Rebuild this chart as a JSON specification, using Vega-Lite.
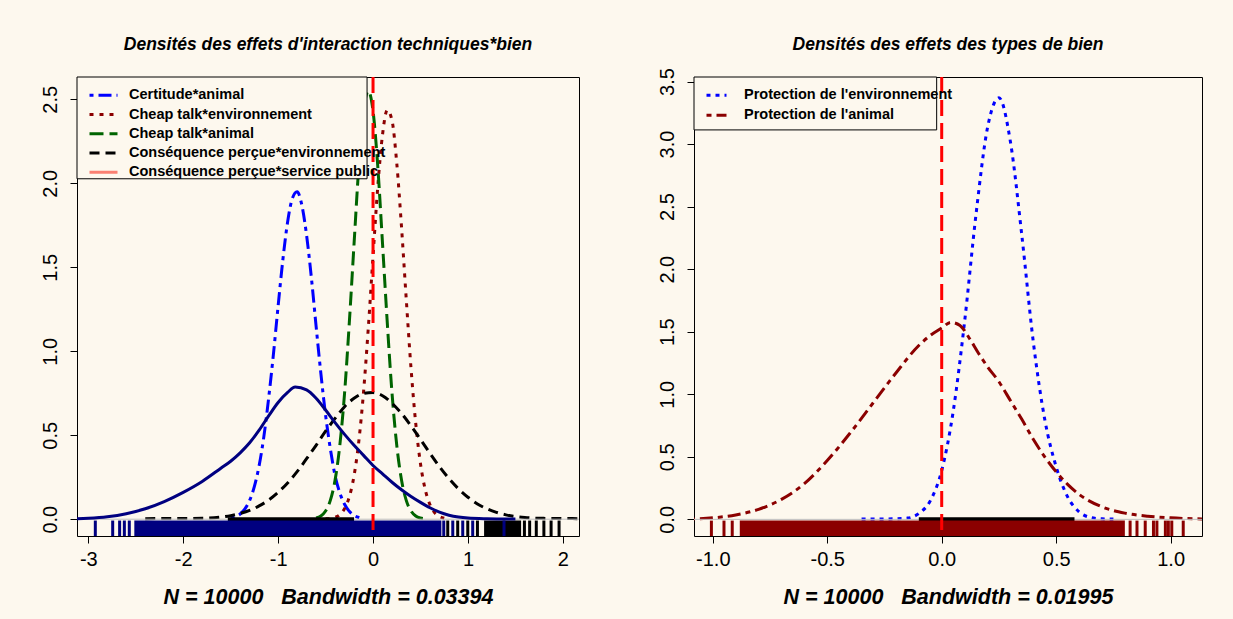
{
  "$schema": "https://vega.github.io/schema/vega-lite/v6.json",
  "background": "#fdf8ee",
  "padding": {"left": 39, "top": 35, "right": 33, "bottom": 16},
  "spacing": 76,
  "config": {
    "font": "Liberation Sans",
    "locale": {"number": {"decimal": ".", "thousands": ",", "grouping": [3], "currency": ["$", ""], "minus": "-"}},
    "view": {"stroke": "#000000", "strokeWidth": 1},
    "axis": {"grid": false, "domain": false, "tickColor": "#000000", "tickSize": 7, "tickWidth": 1, "labelColor": "#000000", "labelFontSize": 20, "labelFont": "Liberation Sans", "titleFont": "Liberation Sans", "labelFlush": false, "labelOverlap": false},
    "axisY": {"labelAngle": -90, "labelAlign": "center", "labelBaseline": "alphabetic", "labelPadding": 14},
    "axisX": {"labelPadding": 6, "titleFontSize": 21.5, "titleFontWeight": "bold", "titleFontStyle": "italic", "titleColor": "#000000", "titleBaseline": "alphabetic", "titleY": 67},
    "title": {"fontSize": 17.5, "fontWeight": "bold", "fontStyle": "italic", "color": "#000000", "anchor": "middle", "frame": "group", "baseline": "alphabetic"},
    "legend": {"orient": "none", "legendX": 0, "legendY": 0, "title": null, "symbolType": "stroke", "symbolStrokeWidth": 3, "labelFontSize": 14.5, "labelFontWeight": "bold", "labelColor": "#000000", "labelBaseline": "middle", "labelLimit": 600, "clipHeight": 14.5, "padding": 11}
  },
  "resolve": {"scale": {"color": "independent", "strokeDash": "independent"}, "legend": {"color": "independent", "strokeDash": "independent"}},
  "datasets": {
    "L_curves": [
      {"s":"ca","x":-1.5,"y":0.007},{"s":"ca","x":-1.45,"y":0.015},{"s":"ca","x":-1.4,"y":0.031},{"s":"ca","x":-1.35,"y":0.061},{"s":"ca","x":-1.3,"y":0.112},{"s":"ca","x":-1.25,"y":0.195},{"s":"ca","x":-1.2,"y":0.319},{"s":"ca","x":-1.15,"y":0.493},{"s":"ca","x":-1.1,"y":0.72},{"s":"ca","x":-1.05,"y":0.98},{"s":"ca","x":-1.0,"y":1.27},{"s":"ca","x":-0.95,"y":1.545},{"s":"ca","x":-0.9,"y":1.77},{"s":"ca","x":-0.85,"y":1.91},{"s":"ca","x":-0.8,"y":1.95},{"s":"ca","x":-0.75,"y":1.87},{"s":"ca","x":-0.7,"y":1.69},{"s":"ca","x":-0.65,"y":1.44},{"s":"ca","x":-0.6,"y":1.15},{"s":"ca","x":-0.55,"y":0.87},{"s":"ca","x":-0.5,"y":0.62},{"s":"ca","x":-0.45,"y":0.42},{"s":"ca","x":-0.4,"y":0.26},{"s":"ca","x":-0.35,"y":0.157},{"s":"ca","x":-0.3,"y":0.089},{"s":"ca","x":-0.25,"y":0.047},{"s":"ca","x":-0.2,"y":0.023},{"s":"ca","x":-0.15,"y":0.01},{"s":"ca","x":-0.1,"y":0.003},
      {"s":"cte","x":-0.5,"y":0.002},{"s":"cte","x":-0.45,"y":0.004},{"s":"cte","x":-0.4,"y":0.011},{"s":"cte","x":-0.35,"y":0.027},{"s":"cte","x":-0.3,"y":0.063},{"s":"cte","x":-0.25,"y":0.133},{"s":"cte","x":-0.2,"y":0.259},{"s":"cte","x":-0.15,"y":0.463},{"s":"cte","x":-0.1,"y":0.758},{"s":"cte","x":-0.05,"y":1.138},{"s":"cte","x":0.0,"y":1.567},{"s":"cte","x":0.05,"y":1.98},{"s":"cte","x":0.1,"y":2.29},{"s":"cte","x":0.15,"y":2.436},{"s":"cte","x":0.2,"y":2.374},{"s":"cte","x":0.25,"y":2.12},{"s":"cte","x":0.3,"y":1.74},{"s":"cte","x":0.35,"y":1.31},{"s":"cte","x":0.4,"y":0.9},{"s":"cte","x":0.45,"y":0.57},{"s":"cte","x":0.5,"y":0.33},{"s":"cte","x":0.55,"y":0.176},{"s":"cte","x":0.6,"y":0.086},{"s":"cte","x":0.65,"y":0.038},{"s":"cte","x":0.7,"y":0.016},{"s":"cte","x":0.75,"y":0.006},
      {"s":"cta","x":-0.6,"y":0.007},{"s":"cta","x":-0.55,"y":0.019},{"s":"cta","x":-0.5,"y":0.049},{"s":"cta","x":-0.45,"y":0.112},{"s":"cta","x":-0.4,"y":0.233},{"s":"cta","x":-0.35,"y":0.44},{"s":"cta","x":-0.3,"y":0.75},{"s":"cta","x":-0.25,"y":1.17},{"s":"cta","x":-0.2,"y":1.64},{"s":"cta","x":-0.15,"y":2.1},{"s":"cta","x":-0.1,"y":2.43},{"s":"cta","x":-0.05,"y":2.55},{"s":"cta","x":0.0,"y":2.43},{"s":"cta","x":0.05,"y":2.1},{"s":"cta","x":0.1,"y":1.64},{"s":"cta","x":0.15,"y":1.17},{"s":"cta","x":0.2,"y":0.75},{"s":"cta","x":0.25,"y":0.44},{"s":"cta","x":0.3,"y":0.233},{"s":"cta","x":0.35,"y":0.112},{"s":"cta","x":0.4,"y":0.049},{"s":"cta","x":0.45,"y":0.019},{"s":"cta","x":0.5,"y":0.007},{"s":"cta","x":0.55,"y":0.003},
      {"s":"cpe","x":-2.4,"y":0.003},{"s":"cpe","x":-2.2,"y":0.004},{"s":"cpe","x":-2.0,"y":0.004},{"s":"cpe","x":-1.8,"y":0.005},{"s":"cpe","x":-1.6,"y":0.013},{"s":"cpe","x":-1.5,"y":0.021},{"s":"cpe","x":-1.4,"y":0.034},{"s":"cpe","x":-1.3,"y":0.052},{"s":"cpe","x":-1.2,"y":0.079},{"s":"cpe","x":-1.1,"y":0.114},{"s":"cpe","x":-1.0,"y":0.16},{"s":"cpe","x":-0.9,"y":0.216},{"s":"cpe","x":-0.8,"y":0.283},{"s":"cpe","x":-0.7,"y":0.36},{"s":"cpe","x":-0.6,"y":0.44},{"s":"cpe","x":-0.5,"y":0.524},{"s":"cpe","x":-0.4,"y":0.6},{"s":"cpe","x":-0.3,"y":0.67},{"s":"cpe","x":-0.2,"y":0.72},{"s":"cpe","x":-0.1,"y":0.749},{"s":"cpe","x":0.0,"y":0.754},{"s":"cpe","x":0.1,"y":0.735},{"s":"cpe","x":0.2,"y":0.69},{"s":"cpe","x":0.3,"y":0.63},{"s":"cpe","x":0.4,"y":0.556},{"s":"cpe","x":0.5,"y":0.475},{"s":"cpe","x":0.6,"y":0.392},{"s":"cpe","x":0.7,"y":0.313},{"s":"cpe","x":0.8,"y":0.242},{"s":"cpe","x":0.9,"y":0.181},{"s":"cpe","x":1.0,"y":0.131},{"s":"cpe","x":1.1,"y":0.091},{"s":"cpe","x":1.2,"y":0.062},{"s":"cpe","x":1.3,"y":0.041},{"s":"cpe","x":1.4,"y":0.026},{"s":"cpe","x":1.5,"y":0.016},{"s":"cpe","x":1.6,"y":0.01},{"s":"cpe","x":1.8,"y":0.005},{"s":"cpe","x":2.0,"y":0.004},{"s":"cpe","x":2.2,"y":0.003}
    ],
    "L_sp": [
      {"x":-3.2,"y":0.002},{"x":-3.0,"y":0.006},{"x":-2.8,"y":0.015},{"x":-2.6,"y":0.033},{"x":-2.4,"y":0.062},{"x":-2.2,"y":0.105},{"x":-2.0,"y":0.16},{"x":-1.8,"y":0.225},{"x":-1.6,"y":0.305},{"x":-1.5,"y":0.345},{"x":-1.4,"y":0.395},{"x":-1.3,"y":0.455},{"x":-1.2,"y":0.53},{"x":-1.1,"y":0.615},{"x":-1.0,"y":0.695},{"x":-0.9,"y":0.755},{"x":-0.82,"y":0.787},{"x":-0.7,"y":0.77},{"x":-0.6,"y":0.72},{"x":-0.5,"y":0.65},{"x":-0.4,"y":0.575},{"x":-0.3,"y":0.505},{"x":-0.2,"y":0.44},{"x":-0.1,"y":0.38},{"x":0.0,"y":0.32},{"x":0.1,"y":0.27},{"x":0.2,"y":0.22},{"x":0.3,"y":0.175},{"x":0.4,"y":0.135},{"x":0.5,"y":0.1},{"x":0.6,"y":0.068},{"x":0.7,"y":0.042},{"x":0.8,"y":0.024},{"x":0.9,"y":0.013},{"x":1.0,"y":0.007},{"x":1.2,"y":0.003},{"x":1.5,"y":0.001}
    ],
    "L_band": [{"s":"cpe","x":1.17,"x2":1.56},{"s":"cps","x":-2.515,"x2":0.72}],
    "L_rug": [
      {"s":"cps","x":-2.926},{"s":"cps","x":-2.743},{"s":"cps","x":-2.67},{"s":"cps","x":-2.62},{"s":"cps","x":-2.568},{"s":"cps","x":0.745},{"s":"cps","x":0.84},{"s":"cps","x":0.945},{"s":"cps","x":1.05},{"s":"cps","x":1.38},
      {"s":"cpe","x":0.787},{"s":"cpe","x":0.892},{"s":"cpe","x":0.998},{"s":"cpe","x":1.1},{"s":"cpe","x":1.595},{"s":"cpe","x":1.65},{"s":"cpe","x":1.72},{"s":"cpe","x":1.8},{"s":"cpe","x":1.876},{"s":"cpe","x":1.96}
    ],
    "L_bar": [{"x":-1.53,"x2":-0.2}],
    "R_curves": [
      {"s":"pe","x":-0.35,"y":0.002},{"s":"pe","x":-0.25,"y":0.003},{"s":"pe","x":-0.15,"y":0.01},{"s":"pe","x":-0.1,"y":0.047},{"s":"pe","x":-0.05,"y":0.148},{"s":"pe","x":0.0,"y":0.39},{"s":"pe","x":0.05,"y":0.86},{"s":"pe","x":0.1,"y":1.58},{"s":"pe","x":0.15,"y":2.44},{"s":"pe","x":0.2,"y":3.13},{"s":"pe","x":0.25,"y":3.37},{"s":"pe","x":0.3,"y":3.02},{"s":"pe","x":0.35,"y":2.27},{"s":"pe","x":0.4,"y":1.42},{"s":"pe","x":0.45,"y":0.8},{"s":"pe","x":0.5,"y":0.42},{"s":"pe","x":0.55,"y":0.18},{"s":"pe","x":0.6,"y":0.06},{"s":"pe","x":0.65,"y":0.015},{"s":"pe","x":0.7,"y":0.004},{"s":"pe","x":0.75,"y":0.002},
      {"s":"pa","x":-1.1,"y":0.002},{"s":"pa","x":-1.0,"y":0.012},{"s":"pa","x":-0.9,"y":0.035},{"s":"pa","x":-0.8,"y":0.08},{"s":"pa","x":-0.7,"y":0.16},{"s":"pa","x":-0.6,"y":0.285},{"s":"pa","x":-0.5,"y":0.47},{"s":"pa","x":-0.4,"y":0.69},{"s":"pa","x":-0.3,"y":0.93},{"s":"pa","x":-0.2,"y":1.17},{"s":"pa","x":-0.1,"y":1.39},{"s":"pa","x":-0.05,"y":1.47},{"s":"pa","x":0.0,"y":1.53},{"s":"pa","x":0.04,"y":1.575},{"s":"pa","x":0.08,"y":1.55},{"s":"pa","x":0.12,"y":1.45},{"s":"pa","x":0.16,"y":1.33},{"s":"pa","x":0.2,"y":1.22},{"s":"pa","x":0.25,"y":1.1},{"s":"pa","x":0.3,"y":0.95},{"s":"pa","x":0.35,"y":0.8},{"s":"pa","x":0.4,"y":0.64},{"s":"pa","x":0.45,"y":0.5},{"s":"pa","x":0.5,"y":0.38},{"s":"pa","x":0.55,"y":0.28},{"s":"pa","x":0.6,"y":0.2},{"s":"pa","x":0.7,"y":0.1},{"s":"pa","x":0.8,"y":0.05},{"s":"pa","x":0.9,"y":0.025},{"s":"pa","x":1.0,"y":0.012},{"s":"pa","x":1.1,"y":0.005},{"s":"pa","x":1.2,"y":0.002}
    ],
    "R_band": [{"x":-0.882,"x2":0.8}],
    "R_rug": [{"x":-1.006},{"x":-0.951},{"x":-0.915},{"x":0.823},{"x":0.853},{"x":0.889},{"x":0.925},{"x":0.94},{"x":0.977},{"x":0.99},{"x":1.005},{"x":1.055}],
    "R_bar": [{"x":-0.1,"x2":0.58}]
  },
  "hconcat": [
    {
      "width": 502,
      "height": 459,
      "title": {"text": "Densités des effets d'interaction techniques*bien", "offset": 22},
      "layer": [
        {"data": {"name": "L_curves"}, "mark": {"type": "line", "strokeWidth": 3, "interpolate": "monotone", "clip": true},
         "encoding": {
           "x": {"field": "x", "type": "quantitative", "scale": {"domain": [-3.119, 2.17], "nice": false, "zero": false}, "axis": {"values": [-3, -2, -1, 0, 1, 2], "format": "d", "title": "N = 10000\u00a0\u00a0\u00a0Bandwidth = 0.03394"}},
           "y": {"field": "y", "type": "quantitative", "scale": {"domain": [-0.1, 2.633], "nice": false, "zero": false}, "axis": {"values": [0, 0.5, 1, 1.5, 2, 2.5], "format": ".1f", "title": null}},
           "color": {"field": "s", "type": "nominal", "scale": {"domain": ["ca", "cte", "cta", "cpe", "cps"], "range": ["#0000ff", "#8b0000", "#006400", "#000000", "#fa8072"]},
             "legend": {"labelExpr": "{'ca': 'Certitude*animal', 'cte': 'Cheap talk*environnement', 'cta': 'Cheap talk*animal', 'cpe': 'Conséquence perçue*environnement', 'cps': 'Conséquence perçue*service public'}[datum.label]", "symbolSize": 784, "labelOffset": 10, "rowPadding": 3.25}},
           "strokeDash": {"field": "s", "type": "nominal", "scale": {"domain": ["ca", "cte", "cta", "cpe", "cps"], "range": [[4, 5, 13, 5], [4, 6], [14, 6], [10, 6], [1, 0]]},
             "legend": {"labelExpr": "{'ca': 'Certitude*animal', 'cte': 'Cheap talk*environnement', 'cta': 'Cheap talk*animal', 'cpe': 'Conséquence perçue*environnement', 'cps': 'Conséquence perçue*service public'}[datum.label]", "symbolSize": 784, "labelOffset": 10, "rowPadding": 3.25}}
         }},
        {"data": {"values": [{}]}, "mark": {"type": "rule", "color": "#bebebe", "strokeWidth": 1},
         "encoding": {"y": {"datum": 0, "type": "quantitative"}}},
        {"data": {"name": "L_bar"}, "mark": {"type": "rule", "color": "#000000", "strokeWidth": 4},
         "encoding": {"x": {"field": "x", "type": "quantitative"}, "x2": {"field": "x2"}, "y": {"datum": 0, "type": "quantitative"}}},
        {"data": {"name": "L_band"}, "transform": [{"filter": "datum.s === 'cpe'"}], "mark": {"type": "rect", "color": "#000000"},
         "encoding": {"x": {"field": "x", "type": "quantitative"}, "x2": {"field": "x2"}, "y": {"datum": -0.1, "type": "quantitative"}, "y2": {"datum": -0.008}}},
        {"data": {"name": "L_rug"}, "transform": [{"filter": "datum.s === 'cpe'"}], "mark": {"type": "rule", "color": "#000000", "strokeWidth": 3},
         "encoding": {"x": {"field": "x", "type": "quantitative"}, "y": {"datum": -0.1, "type": "quantitative"}, "y2": {"datum": -0.008}}},
        {"data": {"name": "L_band"}, "transform": [{"filter": "datum.s === 'cps'"}], "mark": {"type": "rect", "color": "#000080"},
         "encoding": {"x": {"field": "x", "type": "quantitative"}, "x2": {"field": "x2"}, "y": {"datum": -0.1, "type": "quantitative"}, "y2": {"datum": -0.008}}},
        {"data": {"name": "L_rug"}, "transform": [{"filter": "datum.s === 'cps'"}], "mark": {"type": "rule", "color": "#000080", "strokeWidth": 3},
         "encoding": {"x": {"field": "x", "type": "quantitative"}, "y": {"datum": -0.1, "type": "quantitative"}, "y2": {"datum": -0.008}}},
        {"data": {"name": "L_sp"}, "mark": {"type": "line", "color": "#000080", "strokeWidth": 3, "interpolate": "monotone", "clip": true},
         "encoding": {"x": {"field": "x", "type": "quantitative"}, "y": {"field": "y", "type": "quantitative"}}},
        {"data": {"values": [{}]}, "mark": {"type": "rule", "color": "#ff0000", "strokeWidth": 3, "strokeDash": [16, 7]},
         "encoding": {"x": {"datum": 0, "type": "quantitative"}}},
        {"data": {"values": [{}]}, "mark": {"type": "rect", "fill": "#fdf8ee", "stroke": "#000000", "strokeWidth": 1},
         "encoding": {"x": {"datum": -3.119, "type": "quantitative"}, "x2": {"datum": -0.063}, "y": {"datum": 2.027, "type": "quantitative"}, "y2": {"datum": 2.633}}}
      ]
    },
    {
      "width": 508,
      "height": 459,
      "title": {"text": "Densités des effets des types de bien", "offset": 14},
      "layer": [
        {"data": {"name": "R_curves"}, "mark": {"type": "line", "strokeWidth": 3, "interpolate": "monotone", "clip": true},
         "encoding": {
           "x": {"field": "x", "type": "quantitative", "scale": {"domain": [-1.082, 1.137], "nice": false, "zero": false}, "axis": {"values": [-1, -0.5, 0, 0.5, 1], "format": ".1f", "title": "N = 10000\u00a0\u00a0\u00a0Bandwidth = 0.01995"}},
           "y": {"field": "y", "type": "quantitative", "scale": {"domain": [-0.133, 3.536], "nice": false, "zero": false}, "axis": {"values": [0, 0.5, 1, 1.5, 2, 2.5, 3, 3.5], "format": ".1f", "title": null}},
           "color": {"field": "s", "type": "nominal", "scale": {"domain": ["pe", "pa"], "range": ["#0000ff", "#8b0000"]},
             "legend": {"labelExpr": "{'pe': 'Protection de l\\'environnement', 'pa': 'Protection de l\\'animal'}[datum.label]", "symbolSize": 400, "labelOffset": 16, "rowPadding": 3.9}},
           "strokeDash": {"field": "s", "type": "nominal", "scale": {"domain": ["pe", "pa"], "range": [[4, 5], [5, 5, 13, 5]]},
             "legend": {"labelExpr": "{'pe': 'Protection de l\\'environnement', 'pa': 'Protection de l\\'animal'}[datum.label]", "symbolSize": 400, "labelOffset": 16, "rowPadding": 3.9}}
         }},
        {"data": {"values": [{}]}, "mark": {"type": "rule", "color": "#bebebe", "strokeWidth": 1},
         "encoding": {"y": {"datum": 0, "type": "quantitative"}}},
        {"data": {"name": "R_bar"}, "mark": {"type": "rule", "color": "#000000", "strokeWidth": 4},
         "encoding": {"x": {"field": "x", "type": "quantitative"}, "x2": {"field": "x2"}, "y": {"datum": 0, "type": "quantitative"}}},
        {"data": {"name": "R_band"}, "mark": {"type": "rect", "color": "#8b0000"},
         "encoding": {"x": {"field": "x", "type": "quantitative"}, "x2": {"field": "x2"}, "y": {"datum": -0.133, "type": "quantitative"}, "y2": {"datum": -0.01}}},
        {"data": {"name": "R_rug"}, "mark": {"type": "rule", "color": "#8b0000", "strokeWidth": 3},
         "encoding": {"x": {"field": "x", "type": "quantitative"}, "y": {"datum": -0.133, "type": "quantitative"}, "y2": {"datum": -0.01}}},
        {"data": {"values": [{}]}, "mark": {"type": "rule", "color": "#ff0000", "strokeWidth": 3, "strokeDash": [16, 7]},
         "encoding": {"x": {"datum": 0, "type": "quantitative"}}},
        {"data": {"values": [{}]}, "mark": {"type": "rect", "fill": "#fdf8ee", "stroke": "#000000", "strokeWidth": 1},
         "encoding": {"x": {"datum": -1.082, "type": "quantitative"}, "x2": {"datum": -0.022}, "y": {"datum": 3.113, "type": "quantitative"}, "y2": {"datum": 3.536}}}
      ]
    }
  ]
}
